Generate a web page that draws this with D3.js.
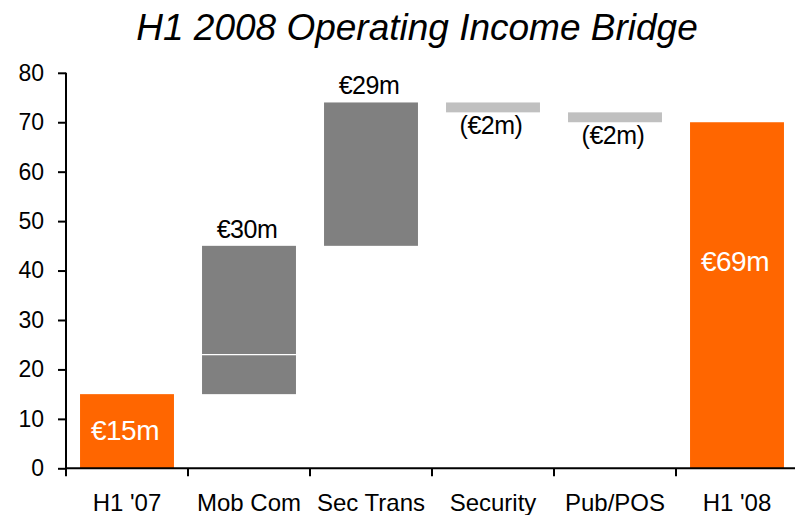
<!DOCTYPE html>
<html>
<head>
<meta charset="utf-8">
<script src="https://cdn.jsdelivr.net/npm/d3@7"></script>
<style>
  body { margin: 0; background: #fff; }
  text { font-family: Arial, "Liberation Sans", sans-serif; }
</style>
</head>
<body>
<svg width="795" height="515"></svg>
<script>
// chart data
let categories = ["H1 '07", "Mob Com", "Sec Trans", "Security", "Pub/POS", "H1 '08"];
let barStart = [0, 15, 45, 72, 70, 0];
let barEnd = [15, 45, 74, 74, 72, 70];
let barKind = ["total", "up", "up", "down", "down", "total"];
let barLabels = ["€15m", "€30m", "€29m", "(€2m)", "(€2m)", "€69m"];
let splitLines = [{ cat: "Mob Com", value: 23 }];
let yTicks = [0, 10, 20, 30, 40, 50, 60, 70, 80];

let colors = { total: "#FF6600", up: "#808080", down: "#C0C0C0" };

const svg = d3.select("svg");

// scales
let x = d3.scaleBand()
    .domain(categories)
    .range([66, 798])
    .paddingInner(0.23)
    .paddingOuter(0.115);

let y = d3.scaleLinear()
    .domain([0, 80])
    .range([468.3, 72.8]);

let bars = categories.map(function(c, i) {
    return { cat: c, start: barStart[i], end: barEnd[i], kind: barKind[i], label: barLabels[i] };
});

// title
svg.append("text")
    .attr("x", 417)
    .attr("y", 40)
    .attr("text-anchor", "middle")
    .style("font-size", "37px")
    .style("font-style", "italic")
    .text("H1 2008 Operating Income Bridge");

// bars
svg.selectAll(".bar")
    .data(bars)
    .enter().append("rect")
    .attr("class", "bar")
    .attr("x", function(d) { return x(d.cat); })
    .attr("width", x.bandwidth())
    .attr("y", function(d) { return y(d.end); })
    .attr("height", function(d) { return y(d.start) - y(d.end); })
    .style("fill", function(d) { return colors[d.kind]; });

// white divider inside the Mob Com bar
svg.selectAll(".split")
    .data(splitLines)
    .enter().append("line")
    .attr("x1", function(d) { return x(d.cat); })
    .attr("x2", function(d) { return x(d.cat) + x.bandwidth(); })
    .attr("y1", function(d) { return y(d.value); })
    .attr("y2", function(d) { return y(d.value); })
    .style("stroke", "#fff")
    .style("stroke-width", 1.2);

// bar labels
svg.selectAll(".label")
    .data(bars)
    .enter().append("text")
    .attr("class", "label")
    .attr("text-anchor", "middle")
    .attr("x", function(d) { return x(d.cat) + x.bandwidth() / 2 - 2; })
    .attr("y", function(d) {
        if (d.kind == "total") return Math.min((y(d.start) + y(d.end)) / 2, y(d.end) + 140) + 9;
        if (d.kind == "up") return y(d.end) - 8;
        return y(d.start) + 22;
    })
    .style("font-size", function(d) { return d.kind == "total" ? "28px" : "25px"; })
    .style("fill", function(d) { return d.kind == "total" ? "#fff" : "#000"; })
    .style("letter-spacing", "-0.5px")
    .text(function(d) { return d.label; });

// y axis
let yAxis = svg.append("g")
    .attr("transform", "translate(66,0)")
    .call(d3.axisLeft(y).tickValues(yTicks).tickSize(8).tickPadding(14));
yAxis.select(".domain").attr("d", "M0," + y(80) + "V" + y(0)).style("stroke-width", 2);
yAxis.selectAll(".tick line").style("stroke-width", 2);
yAxis.selectAll("text")
    .style("font-size", "23px")
    .style("font-family", "Arial, 'Liberation Sans', sans-serif")
    .attr("fill", "#000");

// x axis line and ticks at category boundaries
let step = x.step();
let bounds = categories.map(function(c) { return x(c) + x.bandwidth() / 2 - step / 2; });

svg.append("line")
    .attr("x1", 65)
    .attr("x2", 795)
    .attr("y1", y(0))
    .attr("y2", y(0))
    .style("stroke", "#000")
    .style("stroke-width", 2);

svg.selectAll(".xtick")
    .data(bounds)
    .enter().append("line")
    .attr("class", "xtick")
    .attr("x1", function(d) { return d; })
    .attr("x2", function(d) { return d; })
    .attr("y1", y(0))
    .attr("y2", y(0) + 8)
    .style("stroke", "#000")
    .style("stroke-width", 2);

svg.selectAll(".xlabel")
    .data(categories)
    .enter().append("text")
    .attr("class", "xlabel")
    .attr("text-anchor", "middle")
    .attr("x", function(d) { return x(d) + x.bandwidth() / 2; })
    .attr("y", 511)
    .style("font-size", "24px")
    .text(function(d) { return d; });
</script>
</body>
</html>
